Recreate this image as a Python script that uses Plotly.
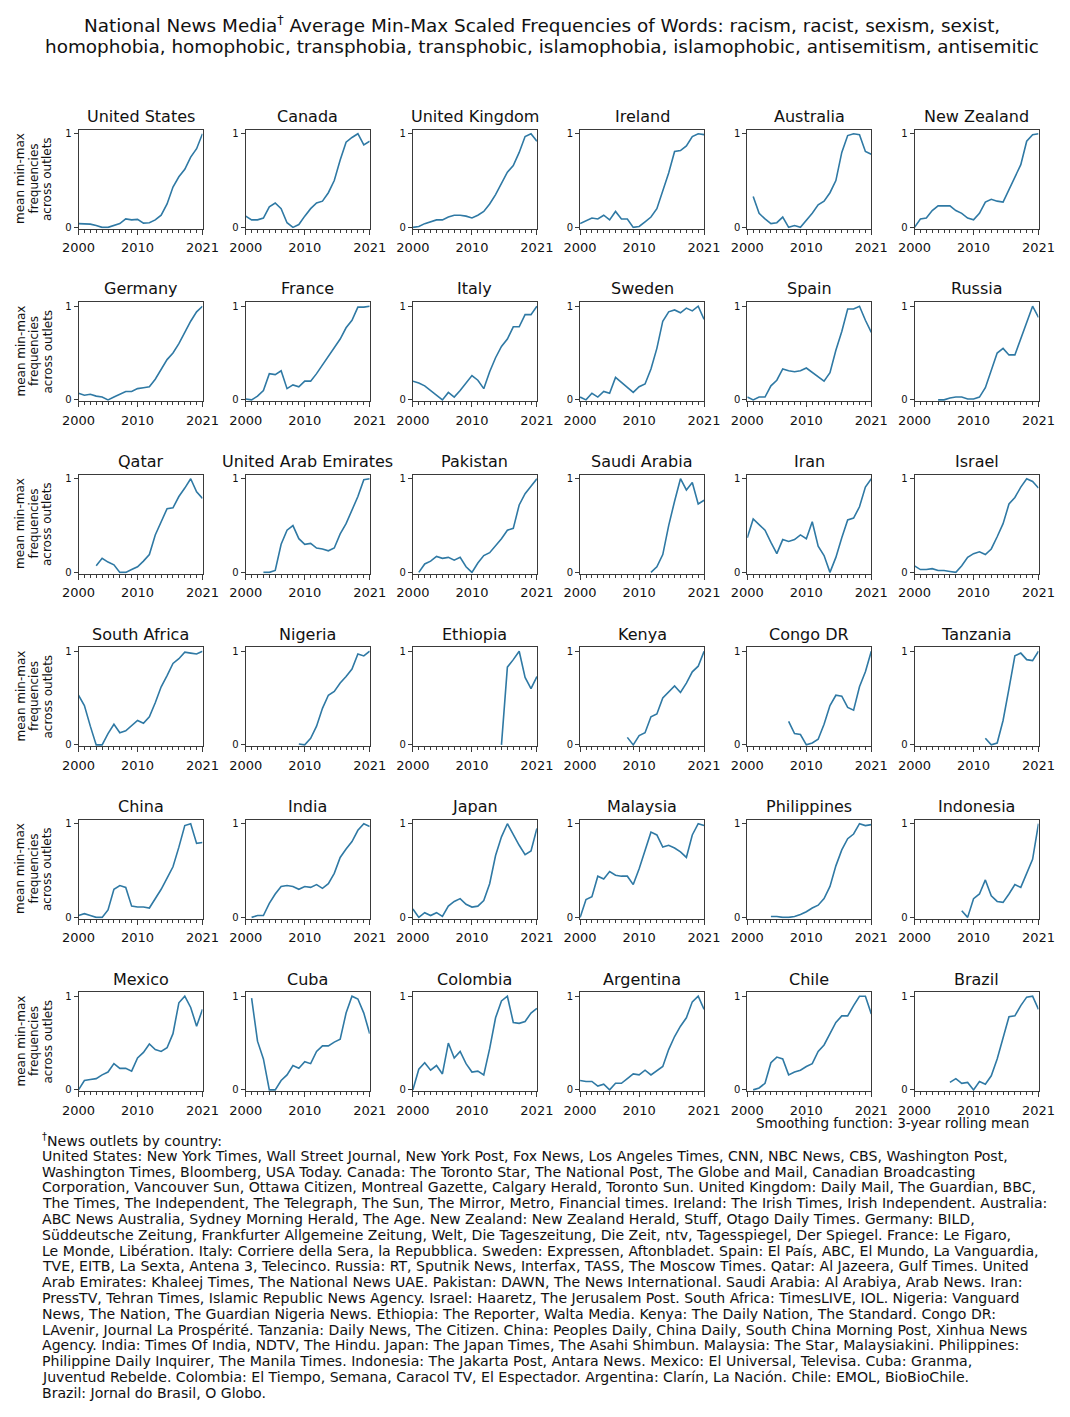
import plotly.graph_objects as go

W, H = 1070, 1417
FONT = "DejaVu Sans"
LINE_COLOR = "#2f79a4"
AX_COLOR = "#3a3a3a"

YEARS = list(range(2000, 2022))
X_TICKS = [2000, 2010, 2021]
Y_TICKS = [0, 1]

COUNTRIES = [
    "United States", "Canada", "United Kingdom", "Ireland", "Australia", "New Zealand",
    "Germany", "France", "Italy", "Sweden", "Spain", "Russia",
    "Qatar", "United Arab Emirates", "Pakistan", "Saudi Arabia", "Iran", "Israel",
    "South Africa", "Nigeria", "Ethiopia", "Kenya", "Congo DR", "Tanzania",
    "China", "India", "Japan", "Malaysia", "Philippines", "Indonesia",
    "Mexico", "Cuba", "Colombia", "Argentina", "Chile", "Brazil",
]

N = None
united_states = [0.04, 0.035, 0.035, 0.02, 0.0, 0.0, 0.02, 0.04, 0.09, 0.08, 0.085, 0.045, 0.05, 0.08, 0.13, 0.25, 0.43, 0.54, 0.62, 0.75, 0.84, 1.0]
canada = [0.12, 0.08, 0.08, 0.10, 0.22, 0.26, 0.2, 0.05, 0.0, 0.03, 0.12, 0.2, 0.26, 0.28, 0.37, 0.5, 0.72, 0.91, 0.96, 1.0, 0.88, 0.92]
united_kingdom = [0.0, 0.01, 0.04, 0.06, 0.08, 0.08, 0.11, 0.13, 0.13, 0.12, 0.1, 0.13, 0.17, 0.25, 0.35, 0.47, 0.59, 0.66, 0.8, 0.97, 1.0, 0.92]
ireland = [0.04, 0.07, 0.1, 0.09, 0.13, 0.08, 0.17, 0.09, 0.09, 0.0, 0.01, 0.06, 0.11, 0.2, 0.4, 0.58, 0.81, 0.82, 0.87, 0.97, 1.0, 0.99]
australia = [N, 0.33, 0.15, 0.09, 0.04, 0.05, 0.11, 0.0, 0.02, 0.0, 0.07, 0.15, 0.24, 0.28, 0.37, 0.5, 0.8, 0.98, 1.0, 0.99, 0.81, 0.78]
new_zealand = [0.0, 0.09, 0.1, 0.18, 0.23, 0.23, 0.23, 0.18, 0.15, 0.1, 0.08, 0.15, 0.27, 0.3, 0.28, 0.27, 0.4, 0.54, 0.67, 0.92, 0.99, 1.0]
germany = [0.07, 0.05, 0.06, 0.04, 0.03, 0.0, 0.03, 0.06, 0.09, 0.09, 0.12, 0.13, 0.14, 0.22, 0.32, 0.43, 0.5, 0.6, 0.72, 0.84, 0.94, 1.0]
france = [0.01, 0.0, 0.04, 0.1, 0.28, 0.27, 0.31, 0.12, 0.16, 0.14, 0.2, 0.2, 0.28, 0.37, 0.47, 0.56, 0.65, 0.77, 0.85, 0.99, 0.99, 1.0]
italy = [0.2, 0.18, 0.15, 0.1, 0.05, 0.0, 0.08, 0.03, 0.1, 0.18, 0.26, 0.21, 0.12, 0.3, 0.45, 0.57, 0.65, 0.78, 0.78, 0.91, 0.91, 1.0]
sweden = [0.03, 0.0, 0.07, 0.03, 0.09, 0.07, 0.24, 0.19, 0.14, 0.08, 0.14, 0.17, 0.33, 0.55, 0.84, 0.94, 0.96, 0.93, 0.98, 0.95, 1.0, 0.86]
spain = [0.03, 0.0, 0.03, 0.03, 0.15, 0.21, 0.33, 0.31, 0.3, 0.31, 0.34, 0.29, 0.24, 0.2, 0.29, 0.53, 0.73, 0.97, 0.97, 1.0, 0.85, 0.72]
russia = [N, N, N, N, 0.0, 0.0, 0.02, 0.03, 0.03, 0.01, 0.01, 0.03, 0.13, 0.32, 0.5, 0.55, 0.48, 0.48, 0.65, 0.82, 1.0, 0.88]
qatar = [N, N, N, 0.07, 0.15, 0.11, 0.08, 0.0, 0.0, 0.03, 0.06, 0.12, 0.19, 0.4, 0.55, 0.68, 0.69, 0.81, 0.9, 1.0, 0.86, 0.79]
uae = [N, N, N, 0.0, 0.0, 0.02, 0.3, 0.45, 0.5, 0.36, 0.3, 0.31, 0.26, 0.25, 0.23, 0.26, 0.41, 0.52, 0.67, 0.81, 0.99, 1.0]
pakistan = [N, 0.0, 0.09, 0.12, 0.17, 0.15, 0.16, 0.13, 0.16, 0.06, 0.0, 0.1, 0.18, 0.21, 0.28, 0.36, 0.45, 0.47, 0.72, 0.84, 0.92, 1.0]
saudi_arabia = [N, N, N, N, N, N, N, N, N, N, N, N, 0.0, 0.06, 0.19, 0.5, 0.76, 1.0, 0.88, 0.96, 0.73, 0.77]
iran = [0.37, 0.57, 0.51, 0.45, 0.32, 0.2, 0.35, 0.33, 0.35, 0.4, 0.36, 0.54, 0.28, 0.18, 0.0, 0.16, 0.37, 0.56, 0.58, 0.7, 0.91, 1.0]
israel = [0.07, 0.03, 0.03, 0.04, 0.02, 0.02, 0.01, 0.0, 0.07, 0.16, 0.2, 0.22, 0.19, 0.25, 0.38, 0.52, 0.73, 0.8, 0.91, 1.0, 0.97, 0.9]
south_africa = [0.53, 0.42, 0.2, 0.0, 0.0, 0.12, 0.22, 0.13, 0.15, 0.2, 0.26, 0.23, 0.3, 0.45, 0.62, 0.74, 0.87, 0.92, 0.99, 0.98, 0.97, 1.0]
nigeria = [N, N, N, N, N, N, N, N, N, 0.01, 0.0, 0.07, 0.2, 0.39, 0.53, 0.57, 0.66, 0.73, 0.81, 0.97, 0.95, 1.0]
ethiopia = [N, N, N, N, N, N, N, N, N, N, N, N, N, N, N, 0.0, 0.83, 0.91, 1.0, 0.72, 0.6, 0.73]
kenya = [N, N, N, N, N, N, N, N, 0.08, 0.0, 0.1, 0.13, 0.3, 0.33, 0.5, 0.56, 0.63, 0.56, 0.66, 0.78, 0.84, 1.0]
congo_dr = [N, N, N, N, N, N, N, 0.25, 0.12, 0.11, 0.0, 0.02, 0.06, 0.22, 0.42, 0.53, 0.52, 0.4, 0.37, 0.62, 0.78, 1.0]
tanzania = [N, N, N, N, N, N, N, N, N, N, N, N, 0.07, 0.0, 0.02, 0.26, 0.6, 0.95, 0.98, 0.91, 0.9, 1.0]
china = [0.02, 0.04, 0.02, 0.0, 0.0, 0.08, 0.3, 0.34, 0.32, 0.12, 0.11, 0.11, 0.1, 0.2, 0.3, 0.42, 0.54, 0.75, 0.98, 1.0, 0.79, 0.8]
india = [N, 0.0, 0.02, 0.02, 0.15, 0.25, 0.33, 0.34, 0.33, 0.3, 0.33, 0.32, 0.35, 0.31, 0.36, 0.47, 0.64, 0.73, 0.81, 0.93, 1.0, 0.97]
japan = [0.09, 0.0, 0.05, 0.02, 0.05, 0.01, 0.12, 0.17, 0.2, 0.14, 0.11, 0.12, 0.18, 0.36, 0.66, 0.86, 1.0, 0.88, 0.77, 0.67, 0.71, 0.95]
malaysia = [0.0, 0.19, 0.22, 0.44, 0.41, 0.49, 0.45, 0.44, 0.44, 0.35, 0.52, 0.71, 0.91, 0.88, 0.75, 0.77, 0.74, 0.7, 0.64, 0.88, 1.0, 0.98]
philippines = [N, N, N, N, 0.01, 0.01, 0.0, 0.0, 0.01, 0.03, 0.06, 0.1, 0.13, 0.2, 0.33, 0.55, 0.72, 0.84, 0.89, 1.0, 0.98, 0.99]
indonesia = [N, N, N, N, N, N, N, N, 0.07, 0.0, 0.2, 0.25, 0.4, 0.23, 0.17, 0.16, 0.25, 0.35, 0.32, 0.47, 0.62, 1.0]
mexico = [0.0, 0.1, 0.11, 0.12, 0.16, 0.19, 0.28, 0.23, 0.23, 0.2, 0.34, 0.4, 0.49, 0.43, 0.41, 0.45, 0.6, 0.93, 1.0, 0.88, 0.68, 0.86]
cuba = [N, 0.98, 0.52, 0.33, 0.0, 0.0, 0.1, 0.16, 0.26, 0.23, 0.3, 0.28, 0.41, 0.47, 0.47, 0.51, 0.54, 0.82, 1.0, 0.97, 0.82, 0.6]
colombia = [0.0, 0.22, 0.29, 0.21, 0.26, 0.17, 0.5, 0.34, 0.41, 0.28, 0.19, 0.2, 0.16, 0.44, 0.77, 0.95, 1.0, 0.72, 0.71, 0.73, 0.82, 0.87]
argentina = [0.1, 0.09, 0.09, 0.04, 0.06, 0.0, 0.07, 0.07, 0.12, 0.17, 0.16, 0.21, 0.16, 0.21, 0.25, 0.43, 0.57, 0.68, 0.77, 0.94, 1.0, 0.86]
chile = [N, 0.0, 0.02, 0.07, 0.29, 0.35, 0.33, 0.16, 0.19, 0.21, 0.25, 0.28, 0.41, 0.48, 0.6, 0.72, 0.79, 0.79, 0.9, 1.0, 1.0, 0.81]
brazil = [N, N, N, N, N, N, 0.08, 0.12, 0.07, 0.08, 0.0, 0.09, 0.06, 0.15, 0.33, 0.55, 0.78, 0.79, 0.9, 0.99, 1.0, 0.86]

SERIES = [
    united_states, canada, united_kingdom, ireland, australia, new_zealand,
    germany, france, italy, sweden, spain, russia,
    qatar, uae, pakistan, saudi_arabia, iran, israel,
    south_africa, nigeria, ethiopia, kenya, congo_dr, tanzania,
    china, india, japan, malaysia, philippines, indonesia,
    mexico, cuba, colombia, argentina, chile, brazil,
]

TITLE_LINES = [
    "National News Media<sup>†</sup> Average Min-Max Scaled Frequencies of Words: racism, racist, sexism, sexist,",
    "homophobia, homophobic, transphobia, transphobic, islamophobia, islamophobic, antisemitism, antisemitic",
]
YLABEL_LINES = ["mean min-max", "frequencies", "across outlets"]
NOTE = "Smoothing function: 3-year rolling mean"
FOOTNOTE_LINES = [
    "<sup>†</sup>News outlets by country:",
    "United States: New York Times, Wall Street Journal, New York Post, Fox News, Los Angeles Times, CNN, NBC News, CBS, Washington Post,",
    "Washington Times, Bloomberg, USA Today. Canada: The Toronto Star, The National Post, The Globe and Mail, Canadian Broadcasting",
    "Corporation, Vancouver Sun, Ottawa Citizen, Montreal Gazette, Calgary Herald, Toronto Sun. United Kingdom: Daily Mail, The Guardian, BBC,",
    "The Times, The Independent, The Telegraph, The Sun, The Mirror, Metro, Financial times. Ireland: The Irish Times, Irish Independent. Australia:",
    "ABC News Australia, Sydney Morning Herald, The Age. New Zealand: New Zealand Herald, Stuff, Otago Daily Times. Germany: BILD,",
    "Süddeutsche Zeitung, Frankfurter Allgemeine Zeitung, Welt, Die Tageszeitung, Die Zeit, ntv, Tagesspiegel, Der Spiegel. France: Le Figaro,",
    "Le Monde, Libération. Italy: Corriere della Sera, la Repubblica. Sweden: Expressen, Aftonbladet. Spain: El País, ABC, El Mundo, La Vanguardia,",
    "TVE, EITB, La Sexta, Antena 3, Telecinco. Russia: RT, Sputnik News, Interfax, TASS, The Moscow Times. Qatar: Al Jazeera, Gulf Times. United",
    "Arab Emirates: Khaleej Times, The National News UAE. Pakistan: DAWN, The News International. Saudi Arabia: Al Arabiya, Arab News. Iran:",
    "PressTV, Tehran Times, Islamic Republic News Agency. Israel: Haaretz, The Jerusalem Post. South Africa: TimesLIVE, IOL. Nigeria: Vanguard",
    "News, The Nation, The Guardian Nigeria News. Ethiopia: The Reporter, Walta Media. Kenya: The Daily Nation, The Standard. Congo DR:",
    "LAvenir, Journal La Prospérité. Tanzania: Daily News, The Citizen. China: Peoples Daily, China Daily, South China Morning Post, Xinhua News",
    "Agency. India: Times Of India, NDTV, The Hindu. Japan: The Japan Times, The Asahi Shimbun. Malaysia: The Star, Malaysiakini. Philippines:",
    "Philippine Daily Inquirer, The Manila Times. Indonesia: The Jakarta Post, Antara News. Mexico: El Universal, Televisa. Cuba: Granma,",
    "Juventud Rebelde. Colombia: El Tiempo, Semana, Caracol TV, El Espectador. Argentina: Clarín, La Nación. Chile: EMOL, BioBioChile.",
    "Brazil: Jornal do Brasil, O Globo.",
]

# layout geometry (pixels)
COL_LEFT0, COL_PITCH, PANEL_W = 78.5, 167.2, 124
ROW_TOP0, ROW_PITCH, PANEL_H = 129.5, 172.5, 99


def px_x(v):
    return v / W


def px_y(v):
    return 1 - v / H


fig = go.Figure()
layout = dict(
    width=W, height=H,
    margin=dict(l=0, r=0, t=0, b=0, pad=0, autoexpand=False),
    paper_bgcolor="white", plot_bgcolor="white",
    font=dict(family=FONT, color="#111111"),
    showlegend=False,
)
annotations = []

for i, (name, vals) in enumerate(zip(COUNTRIES, SERIES)):
    r, c = divmod(i, 6)
    left = COL_LEFT0 + c * COL_PITCH
    right = left + PANEL_W
    top = ROW_TOP0 + r * ROW_PITCH
    bottom = top + PANEL_H
    n = "" if i == 0 else str(i + 1)
    layout["xaxis" + n] = dict(
        domain=[px_x(left), px_x(right)], anchor="y" + n,
        range=[2000, 2021], tickmode="array", tickvals=X_TICKS,
        ticktext=[str(t) for t in X_TICKS],
        ticks="outside", ticklen=5, tickwidth=1, tickcolor=AX_COLOR,
        ticklabelstandoff=2,
        minor=dict(tickmode="array", tickvals=list(range(2001, 2021)),
                   ticks="outside", ticklen=3, tickwidth=1, tickcolor=AX_COLOR,
                   showgrid=False),
        showline=True, mirror=True, linecolor=AX_COLOR, linewidth=1,
        showgrid=False, zeroline=False, fixedrange=True, automargin=False,
        tickfont=dict(size=13, family=FONT, color="#111111"),
    )
    layout["yaxis" + n] = dict(
        domain=[px_y(bottom), px_y(top)], anchor="x" + n,
        range=[-0.012, 1.045], tickmode="array", tickvals=Y_TICKS,
        ticktext=[str(t) for t in Y_TICKS],
        ticks="outside", ticklen=4, tickwidth=1, tickcolor=AX_COLOR,
        showline=True, mirror=True, linecolor=AX_COLOR, linewidth=1,
        showgrid=False, zeroline=False, fixedrange=True, automargin=False,
        tickfont=dict(size=10, family=FONT, color="#111111"),
    )
    fig.add_trace(go.Scatter(
        x=YEARS, y=vals, mode="lines", connectgaps=False,
        line=dict(color=LINE_COLOR, width=1.6),
        xaxis="x" + n, yaxis="y" + n, hoverinfo="skip",
    ))
    annotations.append(dict(
        text=name, xref="paper", yref="paper",
        x=px_x((left + right) / 2), y=px_y(top - 13),
        xanchor="center", yanchor="middle", showarrow=False,
        font=dict(size=16, family=FONT, color="#111111"),
    ))
    if c == 0:
        for xpos, line in zip([20, 33.5, 47], YLABEL_LINES):
            annotations.append(dict(
                text=line, xref="paper", yref="paper",
                x=px_x(xpos), y=px_y(top + PANEL_H / 2),
                xanchor="center", yanchor="middle", textangle=-90,
                showarrow=False,
                font=dict(size=12, family=FONT, color="#111111"),
            ))

for ypos, line in zip([24.5, 46.5], TITLE_LINES):
    annotations.append(dict(
        text=line, xref="paper", yref="paper", x=px_x(542), y=px_y(ypos),
        xanchor="center", yanchor="middle", showarrow=False,
        font=dict(size=18.4, family=FONT, color="#111111"),
    ))

annotations.append(dict(
    text=NOTE, xref="paper", yref="paper", x=px_x(1031), y=px_y(1123),
    xanchor="right", yanchor="middle", showarrow=False,
    font=dict(size=13.5, family=FONT, color="#111111"),
))

for k, line in enumerate(FOOTNOTE_LINES):
    annotations.append(dict(
        text=line, xref="paper", yref="paper", x=px_x(40), y=px_y(1140 + k * 15.8),
        xanchor="left", yanchor="middle", showarrow=False,
        font=dict(size=14.1, family=FONT, color="#111111"),
    ))

layout["annotations"] = annotations
fig.update_layout(**layout)
fig.write_html(
    "out.html",
    config={"displayModeBar": False, "staticPlot": True},
    post_script="document.body.style.margin='0';document.body.style.padding='0';",
)
